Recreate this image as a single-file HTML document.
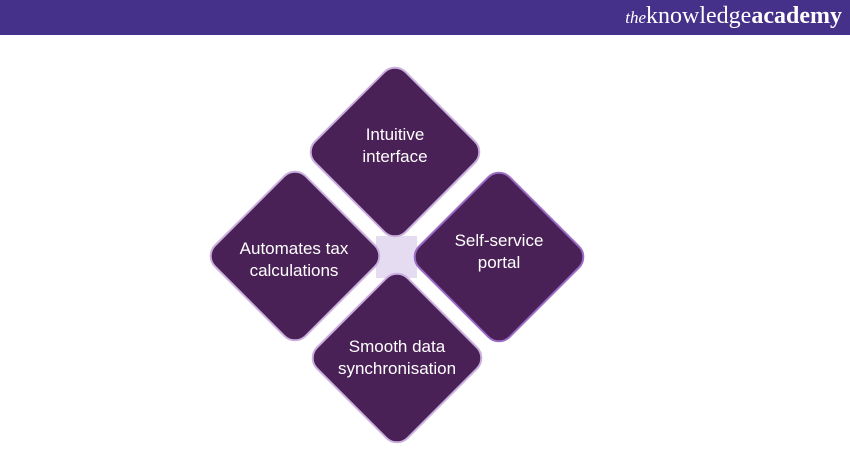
<!DOCTYPE html>
<html><head><style>
body{margin:0;width:850px;height:450px;background:#fff;position:relative;overflow:hidden;font-family:"Liberation Sans",sans-serif}
.hdr{position:absolute;left:0;top:0;width:850px;height:35px;background:#45318a}
.logo{position:absolute;right:8px;top:3px;color:#fff;font-family:"Liberation Serif",serif;font-size:24px;letter-spacing:0}
.logo i{font-size:17px}
.d{position:absolute;width:126px;height:126px;background:#4a2156;border:2px solid #cbb0de;border-radius:16px;transform:rotate(45deg)}
.t{position:absolute;width:180px;text-align:center;color:#fff;font-size:17px;line-height:22px}
.c{position:absolute;left:376px;top:236px;width:41px;height:42px;background:#e6dcf1}
</style></head><body>
<div class="hdr"><div class="logo"><i>the</i>knowledge<b>academy</b></div></div>
<div class="c"></div>
<div class="d" style="left:330px;top:87px"></div>
<div class="d" style="left:230px;top:191px"></div>
<div class="d" style="left:434px;top:192px;border-color:#9a6cc6"></div>
<div class="d" style="left:332px;top:293px"></div>
<div class="t" style="left:305px;top:124px">Intuitive<br>interface</div>
<div class="t" style="left:204px;top:238px">Automates tax<br>calculations</div>
<div class="t" style="left:409px;top:230px">Self-service<br>portal</div>
<div class="t" style="left:307px;top:336px">Smooth data<br>synchronisation</div>
</body></html>
